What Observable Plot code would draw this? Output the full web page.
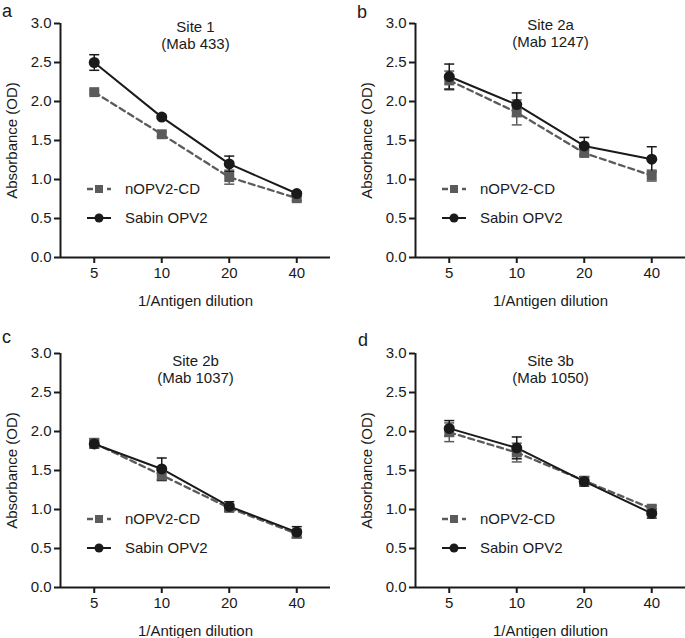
<!DOCTYPE html>
<html><head><meta charset="utf-8">
<script src="https://cdn.jsdelivr.net/npm/d3@7"></script>
<script src="https://cdn.jsdelivr.net/npm/@observablehq/plot@0.6"></script>
<style>
body{margin:0;background:#fff;font-family:"Liberation Sans",Arial,sans-serif;}
#fig{position:relative;width:685px;height:638px;overflow:hidden;background:#fff;}
#fig > svg{position:absolute;}
</style></head><body><div id="fig"></div>
<script>
const dilutions = [5, 10, 20, 40];
const yTicks = [0, 0.5, 1, 1.5, 2, 2.5, 3];
const panelLetters = ["a", "b", "c", "d"];
const panelTitles = ["Site 1", "Site 2a", "Site 2b", "Site 3b"];
const panelSubtitles = ["(Mab 433)", "(Mab 1247)", "(Mab 1037)", "(Mab 1050)"];
const seriesNames = ["nOPV2-CD", "Sabin OPV2"];
const xLabel = "1/Antigen dilution";
const yLabel = "Absorbance (OD)";
const nopvMean = [[2.12, 1.58, 1.03, 0.76], [2.27, 1.86, 1.34, 1.05], [1.85, 1.44, 1.02, 0.69], [1.99, 1.73, 1.37, 1.01]];
const nopvErr = [[0.02, 0.03, 0.09, 0.03], [0.12, 0.16, 0.04, 0.07], [0.06, 0.07, 0.04, 0.05], [0.12, 0.12, 0.05, 0.04]];
const sabinMean = [[2.50, 1.80, 1.20, 0.82], [2.32, 1.96, 1.43, 1.26], [1.84, 1.52, 1.04, 0.71], [2.04, 1.79, 1.36, 0.95]];
const sabinErr = [[0.10, 0.02, 0.10, 0.02], [0.16, 0.15, 0.11, 0.16], [0.05, 0.14, 0.06, 0.07], [0.10, 0.14, 0.06, 0.06]];

const GRAY = "#5b5b5b", BLACK = "#1a1a1a";
const FONT = '"Liberation Sans", Arial, Helvetica, sans-serif';
const layout = [
  {left: 0, top: 0, titleDy: 4},
  {left: 355, top: 0, titleDy: 2},
  {left: 0, top: 330, titleDy: 8},
  {left: 355, top: 330, titleDy: 8}
];
const cap = {draw(ctx) { ctx.moveTo(-5, 0); ctx.lineTo(5, 0); }};

function errMarks(data, color) {
  return [
    Plot.ruleX(data, {x: "x", y1: d => d.y - d.e, y2: d => d.y + d.e, stroke: color, strokeWidth: 1.5}),
    Plot.dot(data, {x: "x", y: d => d.y + d.e, symbol: cap, stroke: color, strokeWidth: 1.5, fill: "none"}),
    Plot.dot(data, {x: "x", y: d => d.y - d.e, symbol: cap, stroke: color, strokeWidth: 1.5, fill: "none"})
  ];
}

function panel(i) {
  const nopv = dilutions.map((x, j) => ({x, y: nopvMean[i][j], e: nopvErr[i][j]}));
  const sabin = dilutions.map((x, j) => ({x, y: sabinMean[i][j], e: sabinErr[i][j]}));
  const xmin = 5 / Math.SQRT2, xmax = 40 * Math.SQRT2;
  const svg = Plot.plot({
    width: 340, height: 318,
    marginTop: 23, marginBottom: 61, marginLeft: 60, marginRight: 10,
    style: {fontFamily: FONT, fontSize: "15px", color: BLACK, background: "transparent", overflow: "visible"},
    x: {type: "log", domain: [xmin, xmax]},
    y: {domain: [0, 3]},
    marks: [
      Plot.axisY({ticks: yTicks, tickFormat: d3.format(".1f"), tickSize: 6, tickPadding: 3, strokeWidth: 2, label: null}),
      Plot.axisX({ticks: dilutions, tickFormat: d => String(d), tickSize: 6, tickPadding: 4, strokeWidth: 2, label: null}),
      Plot.ruleY([0], {strokeWidth: 2, stroke: BLACK}),
      Plot.ruleX([xmin], {strokeWidth: 2, stroke: BLACK}),
      ...errMarks(nopv, GRAY),
      ...errMarks(sabin, BLACK),
      Plot.line(nopv, {x: "x", y: "y", stroke: GRAY, strokeWidth: 2.3, strokeDasharray: "6,4"}),
      Plot.line(sabin, {x: "x", y: "y", stroke: BLACK, strokeWidth: 2}),
      Plot.dot(nopv, {x: "x", y: "y", symbol: "square", fill: GRAY, r: 5.6}),
      Plot.dot(sabin, {x: "x", y: "y", fill: BLACK, r: 5.5}),
      Plot.text([panelTitles[i]], {frameAnchor: "top", dy: layout[i].titleDy, lineAnchor: "middle", fill: BLACK}),
      Plot.text([panelSubtitles[i]], {frameAnchor: "top", dy: layout[i].titleDy + 17, lineAnchor: "middle", fill: BLACK}),
      Plot.text([xLabel], {frameAnchor: "bottom", dy: 44, lineAnchor: "middle", fill: BLACK}),
      Plot.text([yLabel], {frameAnchor: "left", dx: -48, rotate: -90, lineAnchor: "middle", textAnchor: "middle", fill: BLACK})
    ]
  });
  // legend
  const g = d3.select(svg).append("g").attr("font-family", FONT).attr("font-size", 15)
    .attr("fill", BLACK).attr("text-anchor", "start");
  const rows = [189, 218];
  g.append("line").attr("x1", 87).attr("x2", 111).attr("y1", rows[0]).attr("y2", rows[0])
    .attr("stroke", GRAY).attr("stroke-width", 2.5).attr("stroke-dasharray", "6,4");
  g.append("rect").attr("x", 95).attr("y", rows[0] - 4).attr("width", 8).attr("height", 8).attr("fill", GRAY);
  g.append("text").attr("x", 125).attr("y", rows[0]).attr("dy", "0.35em").text(seriesNames[0]);
  g.append("line").attr("x1", 87).attr("x2", 111).attr("y1", rows[1]).attr("y2", rows[1])
    .attr("stroke", BLACK).attr("stroke-width", 2);
  g.append("circle").attr("cx", 99).attr("cy", rows[1]).attr("r", 4.5).attr("fill", BLACK);
  g.append("text").attr("x", 125).attr("y", rows[1]).attr("dy", "0.35em").text(seriesNames[1]);
  return svg;
}

const fig = document.getElementById("fig");
for (let i = 0; i < 4; i++) {
  const svg = panel(i);
  svg.style.left = layout[i].left + "px";
  svg.style.top = layout[i].top + "px";
  fig.appendChild(svg);
}
const letters = d3.select(fig).append("svg").attr("width", 685).attr("height", 638)
  .style("left", "0px").style("top", "0px").style("pointer-events", "none");
const letterPos = [[2, 17], [357, 18], [2, 343], [358, 346]];
letters.selectAll("text").data(panelLetters).join("text")
  .attr("x", (d, i) => letterPos[i][0]).attr("y", (d, i) => letterPos[i][1])
  .attr("font-family", FONT).attr("font-size", 18).attr("fill", BLACK).text(d => d);
</script>
</body></html>
